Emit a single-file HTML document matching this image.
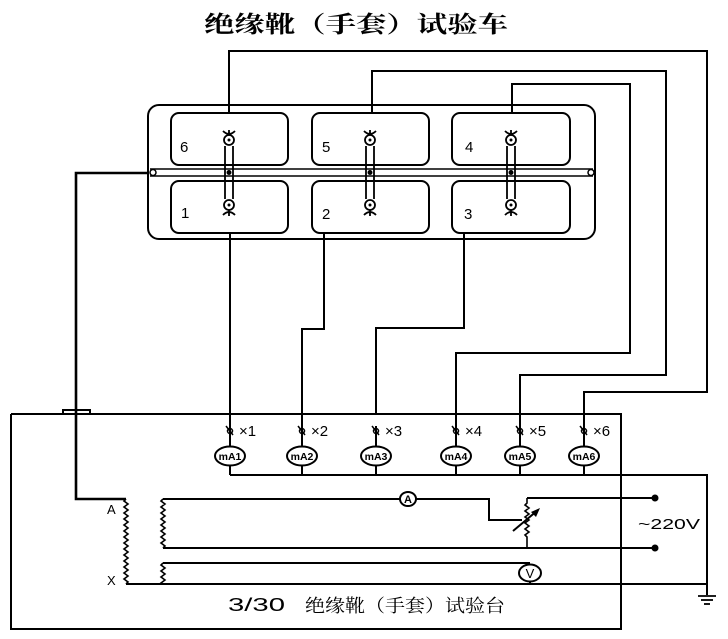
<!DOCTYPE html>
<html><head><meta charset="utf-8"><style>
html,body{margin:0;padding:0;background:#fff;}
svg{display:block;}
text{font-family:"Liberation Sans","Noto Sans CJK SC",sans-serif;fill:#000;}
.cjk{font-family:"Liberation Serif","Noto Serif CJK SC",serif;}
</style></head><body>
<svg width="728" height="639" viewBox="0 0 728 639" xmlns="http://www.w3.org/2000/svg">
<rect x="0" y="0" width="728" height="639" fill="#fff"/>
<!-- Title -->
<text class="cjk" x="204" y="32" font-size="23" font-weight="bold" textLength="304" lengthAdjust="spacingAndGlyphs">绝缘靴（手套）试验车</text>

<g fill="none" stroke="#000" stroke-width="2">
<rect x="148" y="105" width="447" height="134" rx="11"/>
<rect x="171" y="113" width="117" height="52" rx="8"/>
<rect x="312" y="113" width="117" height="52" rx="8"/>
<rect x="452" y="113" width="118" height="52" rx="8"/>
<rect x="171" y="181" width="117" height="52" rx="8"/>
<rect x="312" y="181" width="117" height="52" rx="8"/>
<rect x="452" y="181" width="118" height="52" rx="8"/>
</g>
<g fill="none" stroke="#000" stroke-width="1.5">
<line x1="150" y1="169" x2="593" y2="169"/>
<line x1="150" y1="176" x2="593" y2="176"/>
<circle cx="153" cy="172.5" r="3"/>
<circle cx="591" cy="172.5" r="3"/>
</g>

<g fill="none" stroke="#000" stroke-width="1.8">
<line x1="225" y1="146" x2="225" y2="199"/><line x1="233" y1="146" x2="233" y2="199"/>
<circle cx="229" cy="140" r="5"/><circle cx="229" cy="205" r="5"/>
<path d="M223 131 Q229 137 235 131 M229 130 V135"/>
<path d="M223 215 Q229 209 235 215 M229 210 V216"/>
<line x1="366" y1="146" x2="366" y2="199"/><line x1="374" y1="146" x2="374" y2="199"/>
<circle cx="370" cy="140" r="5"/><circle cx="370" cy="205" r="5"/>
<path d="M364 131 Q370 137 376 131 M370 130 V135"/>
<path d="M364 215 Q370 209 376 215 M370 210 V216"/>
<line x1="507" y1="146" x2="507" y2="199"/><line x1="515" y1="146" x2="515" y2="199"/>
<circle cx="511" cy="140" r="5"/><circle cx="511" cy="205" r="5"/>
<path d="M505 131 Q511 137 517 131 M511 130 V135"/>
<path d="M505 215 Q511 209 517 215 M511 210 V216"/>
</g>
<g fill="#000">
<circle cx="229" cy="140" r="1.5"/><circle cx="229" cy="205" r="1.5"/>
<circle cx="370" cy="140" r="1.5"/><circle cx="370" cy="205" r="1.5"/>
<circle cx="511" cy="140" r="1.5"/><circle cx="511" cy="205" r="1.5"/>
<circle cx="229" cy="172.5" r="2.5"/><circle cx="370" cy="172.5" r="2.5"/><circle cx="511" cy="172.5" r="2.5"/>
</g>
<g font-size="15">
<text x="180" y="152">6</text>
<text x="322" y="152">5</text>
<text x="465" y="152">4</text>
<text x="181" y="218">1</text>
<text x="322" y="219">2</text>
<text x="464" y="219">3</text>
</g>

<g fill="none" stroke="#000" stroke-width="2">
<polyline points="229,113 229,51 707,51 707,392 584,392 584,447"/>
<polyline points="372,113 372,71 666,71 666,375 520,375 520,447"/>
<polyline points="512,113 512,84 630,84 630,353 456,353 456,447"/>
<polyline points="230,233 230,447"/>
<polyline points="324,233 324,329 302,329 302,447"/>
<polyline points="464,233 464,328 376,328 376,414"/>
<line x1="376" y1="426" x2="376" y2="447"/>
</g>
<polyline points="148,173 76,173 76,499 126,499" fill="none" stroke="#000" stroke-width="2.6"/>

<g fill="none" stroke="#000" stroke-width="2">
<polyline points="11,414 11,629 621,629 621,414 11,414"/>
<polyline points="63,414 63,410 90,410 90,414"/>
</g>

<g fill="none" stroke="#000" stroke-width="1.5">
<circle cx="230" cy="431" r="2.5"/><line x1="226" y1="426" x2="233" y2="435"/>
<circle cx="302" cy="431" r="2.5"/><line x1="298" y1="426" x2="305" y2="435"/>
<circle cx="376" cy="431" r="2.5"/><line x1="372" y1="426" x2="379" y2="435"/>
<circle cx="456" cy="431" r="2.5"/><line x1="452" y1="426" x2="459" y2="435"/>
<circle cx="520" cy="431" r="2.5"/><line x1="516" y1="426" x2="523" y2="435"/>
<circle cx="584" cy="431" r="2.5"/><line x1="580" y1="426" x2="587" y2="435"/>
</g>
<g fill="#fff" stroke="#000" stroke-width="2">
<ellipse cx="230" cy="456" rx="15" ry="9.5"/>
<ellipse cx="302" cy="456" rx="15" ry="9.5"/>
<ellipse cx="376" cy="456" rx="15" ry="9.5"/>
<ellipse cx="456" cy="456" rx="15" ry="9.5"/>
<ellipse cx="520" cy="456" rx="15" ry="9.5"/>
<ellipse cx="584" cy="456" rx="15" ry="9.5"/>
</g>
<g font-size="10.5" text-anchor="middle" font-weight="bold">
<text x="230" y="460">mA1</text>
<text x="302" y="460">mA2</text>
<text x="376" y="460">mA3</text>
<text x="456" y="460">mA4</text>
<text x="520" y="460">mA5</text>
<text x="584" y="460">mA6</text>
</g>
<g font-size="15">
<text x="239" y="436">×1</text>
<text x="311" y="436">×2</text>
<text x="385" y="436">×3</text>
<text x="465" y="436">×4</text>
<text x="529" y="436">×5</text>
<text x="593" y="436">×6</text>
</g>
<g fill="none" stroke="#000" stroke-width="2">
<line x1="230" y1="465" x2="230" y2="475"/>
<line x1="302" y1="465" x2="302" y2="475"/>
<line x1="376" y1="465" x2="376" y2="475"/>
<line x1="456" y1="465" x2="456" y2="475"/>
<line x1="520" y1="465" x2="520" y2="475"/>
<line x1="584" y1="465" x2="584" y2="475"/>
<polyline points="230,475 707,475 707,595"/>
<line x1="126" y1="584" x2="707" y2="584"/>
<line x1="698" y1="596" x2="716" y2="596" stroke-width="1.8"/>
<line x1="701" y1="600" x2="713" y2="600" stroke-width="1.8"/>
<line x1="704" y1="604" x2="710" y2="604" stroke-width="1.8"/>
</g>

<g fill="none" stroke="#000" stroke-width="1.6">
<polyline points="126,499 124,501 128,504 124,507 128,510 124,513 128,516 124,519 128,522 124,525 128,528 124,531 128,534 124,537 128,540 124,543 128,546 124,549 128,552 124,555 128,558 124,561 128,564 124,567 128,570 124,573 128,576 124,579 128,582 126,584"/>
<polyline points="163,499 161,501 165,504 161,507 165,510 161,513 165,516 161,519 165,522 161,525 165,528 161,531 165,534 161,537 165,540 161,543 165,546 163,548"/>
<polyline points="163,563 161,565 165,568 161,571 165,574 161,577 165,580 161,583 163,584"/>
<polyline points="527,498 527,503 525,505 529,508 525,511 529,514 525,517 529,520 525,523 529,526 525,529 529,532 525,535 527,537 527,548"/>
</g>
<g fill="none" stroke="#000" stroke-width="2">
<line x1="163" y1="499" x2="400" y2="499"/>
<polyline points="416,499 489,499 489,520 522,520"/>
<line x1="527" y1="498" x2="655" y2="498"/>
<line x1="163" y1="548" x2="655" y2="548"/>
<line x1="163" y1="563" x2="530" y2="563"/>
<line x1="513" y1="531" x2="538" y2="510"/>
<line x1="530" y1="581" x2="530" y2="584"/>
</g>
<path d="M540 508 L531 512 L536 517 Z" fill="#000"/>
<ellipse cx="408" cy="499" rx="8" ry="7" fill="#fff" stroke="#000" stroke-width="2"/>
<text x="408" y="503" font-size="11" text-anchor="middle" font-weight="bold">A</text>
<ellipse cx="530" cy="573" rx="11" ry="8.5" fill="#fff" stroke="#000" stroke-width="2"/>
<text x="530" y="578" font-size="13" text-anchor="middle">V</text>
<circle cx="655" cy="498" r="3.5" fill="#000"/>
<circle cx="655" cy="548" r="3.5" fill="#000"/>
<text x="638" y="529" font-size="15" textLength="62" lengthAdjust="spacingAndGlyphs">~220V</text>
<text x="107" y="514" font-size="13">A</text>
<text x="107" y="585" font-size="13">X</text>

<text x="228" y="611" font-size="18" textLength="57" lengthAdjust="spacingAndGlyphs">3/30</text>
<text class="cjk" x="305" y="612" font-size="18" textLength="200" lengthAdjust="spacingAndGlyphs">绝缘靴（手套）试验台</text>
</svg>
</body></html>
